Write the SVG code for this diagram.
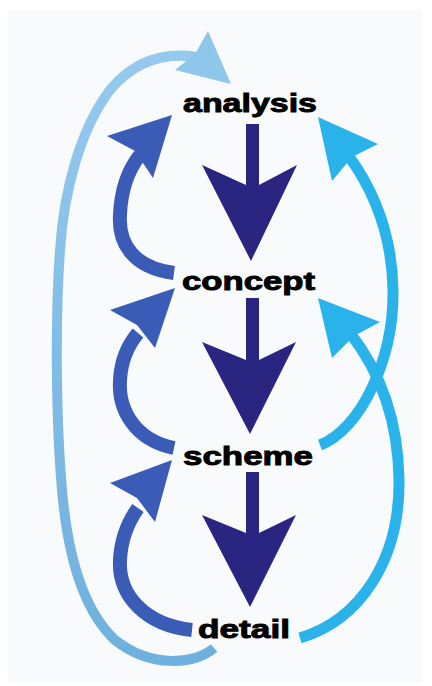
<svg xmlns="http://www.w3.org/2000/svg" width="432" height="686" viewBox="0 0 432 686">
  <defs>
    <style>
      .lbl { font-family: "Liberation Sans", Arial, sans-serif; font-weight: bold; font-size: 25px; fill: #000; stroke: #000; stroke-width: 0.9; lengthAdjust: spacingAndGlyphs; }
      .down { fill: #2b2582; }
      .dk { fill: none; stroke: #3b5cb6; stroke-width: 14; stroke-linecap: butt; }
      .dkh { fill: #3b5cb6; }
      .cy { fill: none; stroke: #2ab3ea; stroke-width: 11; stroke-linecap: butt; }
      .cyh { fill: #2ab3ea; }
      .out { fill: none; stroke: url(#outerGrad); stroke-width: 10; stroke-linecap: butt; }
      .outh { fill: #8fc6ec; }
    </style>
    <linearGradient id="outerGrad" gradientUnits="userSpaceOnUse" x1="0" y1="40" x2="0" y2="670">
      <stop offset="0" stop-color="#96caee"/>
      <stop offset="1" stop-color="#6eb0de"/>
    </linearGradient>
  </defs>
  <rect width="432" height="686" fill="#ffffff"/>
  <rect x="8" y="10" width="414" height="672" fill="#f9fafc"/>

  <g id="connectors">
    <!-- down arrows -->
    <polygon class="down" points="246,124 246,185 202,165 251,261 297,165 259,185 259,124"/>
    <polygon class="down" points="246,298 246,360 202,342 250,434 296,342 259,360 259,298"/>
    <polygon class="down" points="246,472 246,533 202,515 250,607 296,515 259,533 259,472"/>

    <!-- left feedback arrows -->
    <path class="dk" d="M174,273 C135,268 118,245 120,215 C121,190 128,170 140,155"/>
    <polygon class="dkh" points="172,115 107,136 135,151 153,178"/>
    <path class="dk" d="M174,448 C135,440 118,410 120,380 C121,360 128,345 138,333"/>
    <polygon class="dkh" points="175,288 110,310 137,325 155,348"/>
    <path class="dk" d="M192,630 C145,625 118,595 120,560 C121,540 128,522 138,508"/>
    <polygon class="dkh" points="172,460 110,483 137,498 155,522"/>

    <!-- right cyan arrows -->
    <path class="cy" d="M348,155 C370,185 392,230 393,290 C394,360 360,430 320,445"/>
    <polygon class="cyh" points="318,117 378,144 352,157 332,181"/>
    <path class="cy" d="M350,333 C375,365 398,410 399,480 C400,560 360,620 300,638"/>
    <polygon class="cyh" points="318,298 380,322 354,336 332,358"/>

    <!-- outer arrow detail -> analysis -->
    <path class="out" d="M214,648 C195,665 150,668 115,640 C85,612 68,560 62,490 C56,420 55,320 60,250 C64,190 80,130 110,90 C135,60 165,52 197,57"/>
    <polygon class="outh" points="231,84 208,31 195,54 175,70"/>
  </g>

  <g id="analysis">
    <text class="lbl" x="183" y="112" textLength="134" lengthAdjust="spacingAndGlyphs">analysis</text>
  </g>
  <g id="concept">
    <text class="lbl" x="182" y="290" textLength="133" lengthAdjust="spacingAndGlyphs">concept</text>
  </g>
  <g id="scheme">
    <text class="lbl" x="183" y="465" textLength="130" lengthAdjust="spacingAndGlyphs">scheme</text>
  </g>
  <g id="detail">
    <text class="lbl" x="198" y="638" textLength="92" lengthAdjust="spacingAndGlyphs">detail</text>
  </g>
</svg>
